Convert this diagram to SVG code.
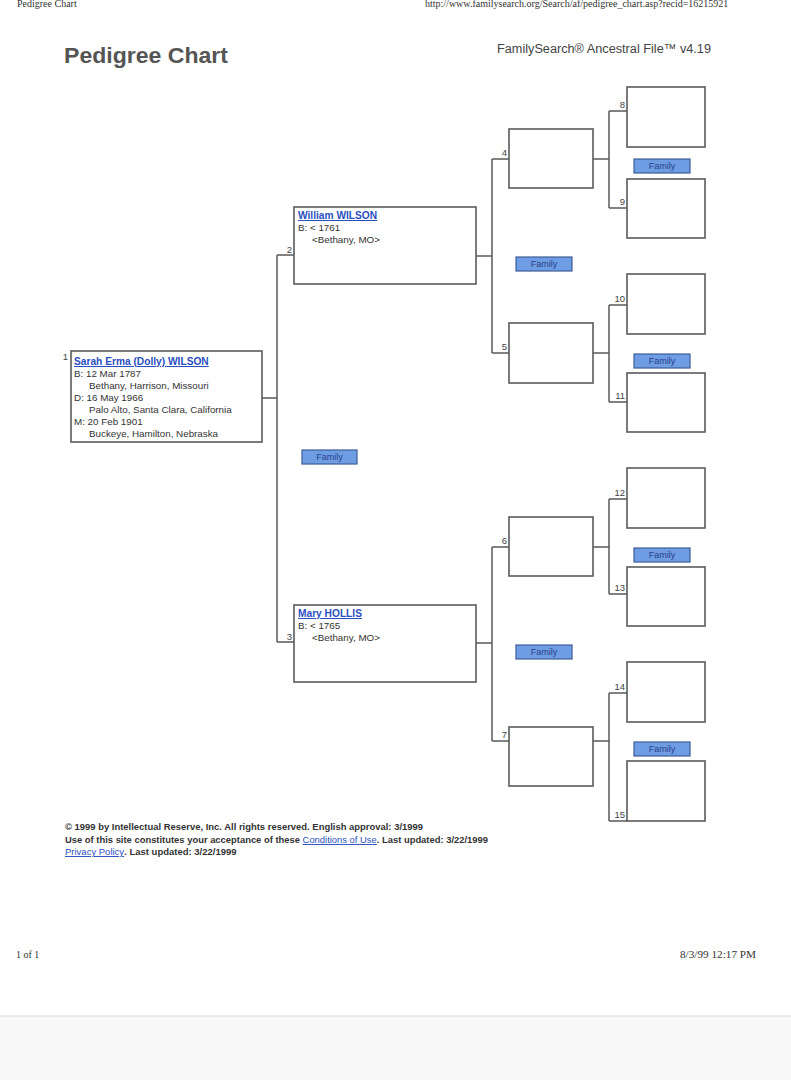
<svg xmlns="http://www.w3.org/2000/svg" width="791" height="1080" viewBox="0 0 791 1080">
<defs>
<style>
.box{fill:#fff;stroke:#5a5a5a;stroke-width:1.6}
.conn{fill:none;stroke:#5a5a5a;stroke-width:1.5}
.num{font-family:"Liberation Sans",Arial,sans-serif;font-size:9.5px;fill:#444;text-anchor:end}
.txt{font-family:"Liberation Sans",Arial,sans-serif;font-size:9.8px;fill:#333}
.name{font-family:"Liberation Sans",Arial,sans-serif;font-size:10.2px;font-weight:bold;fill:#2b4fc0;text-decoration:underline}
.fbtn{fill:#6f9de3;stroke:#3d5c98;stroke-width:1.2}
.ftxt{font-family:"Liberation Sans",Arial,sans-serif;font-size:9px;fill:#27408a;text-anchor:middle}
.serif{font-family:"Liberation Serif","Times New Roman",serif;font-size:10px;fill:#333}
.foot{font-family:"Liberation Sans",Arial,sans-serif;font-size:9.5px;fill:#333;font-weight:bold}
.link{fill:#2b4fc0;text-decoration:underline;font-weight:normal}
</style>
</defs>
<rect x="0" y="0" width="791" height="1080" fill="#fff"/>
<rect x="0" y="1016" width="791" height="64" fill="#f8f8f8"/>
<line x1="0" y1="1016" x2="791" y2="1016" stroke="#ddd" stroke-width="1"/>

<text class="serif" x="17" y="7">Pedigree Chart</text>
<text class="serif" x="425" y="7">http://www.familysearch.org/Search/af/pedigree_chart.asp?recid=16215921</text>
<text x="64" y="63" font-family="Liberation Sans,Arial,sans-serif" font-size="22" font-weight="bold" fill="#555" textLength="164" lengthAdjust="spacingAndGlyphs">Pedigree Chart</text>
<text x="497" y="53" font-family="Liberation Sans,Arial,sans-serif" font-size="12.5" fill="#444" textLength="214" lengthAdjust="spacingAndGlyphs">FamilySearch® Ancestral File™ v4.19</text>

<g id="connectors">
<path class="conn" d="M262 398H277M277 255V642M277 255H294M277 642H294"/>
<path class="conn" d="M476 256H492M492 159V353M492 159H509M492 353H509"/>
<path class="conn" d="M476 643H492M492 547V741M492 547H509M492 741H509"/>
<path class="conn" d="M593 159H609M609 111V208M609 111H627M609 208H627"/>
<path class="conn" d="M593 353H609M609 305V402M609 305H627M609 402H627"/>
<path class="conn" d="M593 547H609M609 499V594M609 499H627M609 594H627"/>
<path class="conn" d="M593 741H609M609 693V821M609 693H627M609 821H627"/>
</g>

<g id="node1">
<rect class="box" x="71" y="351" width="191" height="91"/>
<text class="num" x="68" y="360">1</text>
<text class="name" x="74" y="365">Sarah Erma (Dolly) WILSON</text>
<text class="txt" x="74" y="377">B: 12 Mar 1787</text>
<text class="txt" x="89" y="389">Bethany, Harrison, Missouri</text>
<text class="txt" x="74" y="401">D: 16 May 1966</text>
<text class="txt" x="89" y="413">Palo Alto, Santa Clara, California</text>
<text class="txt" x="74" y="425">M: 20 Feb 1901</text>
<text class="txt" x="89" y="437">Buckeye, Hamilton, Nebraska</text>
</g>

<g id="node2">
<rect class="box" x="294" y="207" width="182" height="77"/>
<text class="num" x="292" y="253">2</text>
<text class="name" x="298" y="219">William WILSON</text>
<text class="txt" x="298" y="231">B: &lt; 1761</text>
<text class="txt" x="312" y="243">&lt;Bethany, MO&gt;</text>
</g>

<g id="node3">
<rect class="box" x="294" y="605" width="182" height="77"/>
<text class="num" x="292" y="640">3</text>
<text class="name" x="298" y="617">Mary HOLLIS</text>
<text class="txt" x="298" y="629">B: &lt; 1765</text>
<text class="txt" x="312" y="641">&lt;Bethany, MO&gt;</text>
</g>

<g id="node4"><rect class="box" x="509" y="129" width="84" height="59"/><text class="num" x="507" y="156">4</text></g>
<g id="node5"><rect class="box" x="509" y="323" width="84" height="60"/><text class="num" x="507" y="350">5</text></g>
<g id="node6"><rect class="box" x="509" y="517" width="84" height="59"/><text class="num" x="507" y="544">6</text></g>
<g id="node7"><rect class="box" x="509" y="727" width="84" height="59"/><text class="num" x="507" y="738">7</text></g>

<g id="node8"><rect class="box" x="627" y="87" width="78" height="60"/><text class="num" x="625" y="108">8</text></g>
<g id="node9"><rect class="box" x="627" y="179" width="78" height="59"/><text class="num" x="625" y="205">9</text></g>
<g id="node10"><rect class="box" x="627" y="274" width="78" height="60"/><text class="num" x="625" y="302">10</text></g>
<g id="node11"><rect class="box" x="627" y="373" width="78" height="59"/><text class="num" x="625" y="399">11</text></g>
<g id="node12"><rect class="box" x="627" y="468" width="78" height="60"/><text class="num" x="625" y="496">12</text></g>
<g id="node13"><rect class="box" x="627" y="567" width="78" height="59"/><text class="num" x="625" y="591">13</text></g>
<g id="node14"><rect class="box" x="627" y="662" width="78" height="60"/><text class="num" x="625" y="690">14</text></g>
<g id="node15"><rect class="box" x="627" y="761" width="78" height="60"/><text class="num" x="625" y="818">15</text></g>

<g id="family-buttons">
<rect class="fbtn" x="302" y="450" width="55" height="14"/><text class="ftxt" x="329.5" y="460">Family</text>
<rect class="fbtn" x="516" y="257" width="56" height="14"/><text class="ftxt" x="544" y="267">Family</text>
<rect class="fbtn" x="516" y="645" width="56" height="14"/><text class="ftxt" x="544" y="655">Family</text>
<rect class="fbtn" x="634" y="159" width="56" height="14"/><text class="ftxt" x="662" y="169">Family</text>
<rect class="fbtn" x="634" y="354" width="56" height="14"/><text class="ftxt" x="662" y="364">Family</text>
<rect class="fbtn" x="634" y="548" width="56" height="14"/><text class="ftxt" x="662" y="558">Family</text>
<rect class="fbtn" x="634" y="742" width="56" height="14"/><text class="ftxt" x="662" y="752">Family</text>
</g>

<text class="foot" x="65" y="830" textLength="358" lengthAdjust="spacingAndGlyphs">© 1999 by Intellectual Reserve, Inc.  All rights reserved.  English approval: 3/1999</text>
<text class="foot" x="65" y="843" textLength="423" lengthAdjust="spacingAndGlyphs">Use of this site constitutes your acceptance of these <tspan class="link">Conditions of Use</tspan>. Last updated: 3/22/1999</text>
<text class="foot" x="65" y="855"><tspan class="link">Privacy Policy</tspan>. Last updated: 3/22/1999</text>

<text class="serif" x="16" y="958">1 of 1</text>
<text class="serif" x="680" y="958" font-size="10.5" textLength="76" lengthAdjust="spacingAndGlyphs">8/3/99 12:17 PM</text>
</svg>
